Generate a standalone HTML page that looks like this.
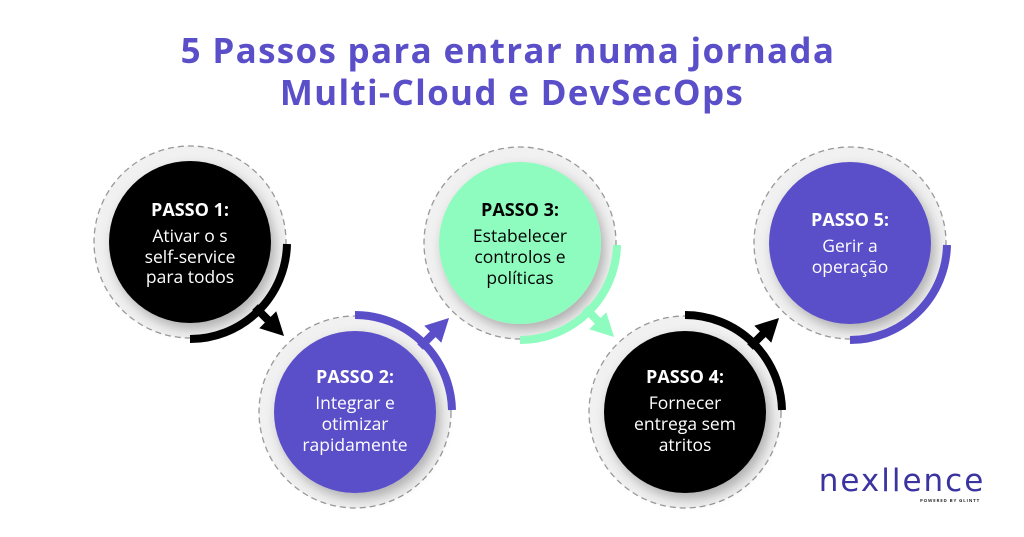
<!DOCTYPE html>
<html><head><meta charset="utf-8"><style>
html,body{margin:0;padding:0;background:#fff;}
svg{display:block;font-family:"Open Sans","Liberation Sans",sans-serif;}
</style></head><body>
<svg width="1024" height="537" viewBox="0 0 1024 537" xmlns="http://www.w3.org/2000/svg">
<defs>
<filter id="sh" x="-30%" y="-30%" width="160%" height="160%"><feDropShadow dx="4" dy="6" stdDeviation="6" flood-color="#000" flood-opacity="0.28"/></filter>
</defs>
<text x="508" y="63" text-anchor="middle" font-size="35" font-weight="bold" fill="#5a4fc8" letter-spacing="1.3">5 Passos para entrar numa jornada</text>
<text x="512" y="105" text-anchor="middle" font-size="35" font-weight="bold" fill="#5a4fc8" letter-spacing="1.3">Multi-Cloud e DevSecOps</text>

<!-- circle 1 -->
<g transform="translate(190,242)">
<circle r="96" fill="#f1f1f1" stroke="#999" stroke-width="1.3" stroke-dasharray="6 4"/>
<circle r="81" fill="#000" filter="url(#sh)"/>
<path d="M97,2 A97,97 0 0 1 0,97" fill="none" stroke="#000" stroke-width="8"/>
<g transform="rotate(45)"><rect x="92" y="-4" width="22" height="8" fill="#000"/><polygon points="110,-12 133,0 110,12" fill="#000"/></g>
<text y="-26" text-anchor="middle" font-size="18" font-weight="bold" fill="#fff">PASSO 1:</text>
<text y="0" text-anchor="middle" font-size="17.5" fill="#fff">Ativar o s</text>
<text y="21" text-anchor="middle" font-size="17.5" fill="#fff">self-service</text>
<text y="41" text-anchor="middle" font-size="17.5" fill="#fff">para todos</text>
</g>

<!-- circle 2 -->
<g transform="translate(355,412)">
<circle r="96" fill="#f1f1f1" stroke="#999" stroke-width="1.3" stroke-dasharray="6 4"/>
<circle r="81" fill="#5a4fc8" filter="url(#sh)"/>
<path d="M0,-97 A97,97 0 0 1 97,-2" fill="none" stroke="#5a4fc8" stroke-width="8"/>
<g transform="rotate(-45)"><rect x="92" y="-4" width="22" height="8" fill="#5a4fc8"/><polygon points="110,-12 133,0 110,12" fill="#5a4fc8"/></g>
<text y="-29" text-anchor="middle" font-size="18" font-weight="bold" fill="#fff">PASSO 2:</text>
<text y="-3" text-anchor="middle" font-size="17.5" fill="#fff">Integrar e</text>
<text y="18" text-anchor="middle" font-size="17.5" fill="#fff">otimizar</text>
<text y="39" text-anchor="middle" font-size="17.5" fill="#fff">rapidamente</text>
</g>

<!-- circle 3 -->
<g transform="translate(520,243)">
<circle r="96" fill="#f1f1f1" stroke="#999" stroke-width="1.3" stroke-dasharray="6 4"/>
<circle r="81" fill="#8dfcbe" filter="url(#sh)"/>
<path d="M97,2 A97,97 0 0 1 0,97" fill="none" stroke="#8dfcbe" stroke-width="8"/>
<g transform="rotate(45)"><rect x="92" y="-4" width="22" height="8" fill="#8dfcbe"/><polygon points="110,-12 133,0 110,12" fill="#8dfcbe"/></g>
<text y="-27" text-anchor="middle" font-size="18" font-weight="bold" fill="#000">PASSO 3:</text>
<text y="-1" text-anchor="middle" font-size="17.5" fill="#000">Estabelecer</text>
<text y="20" text-anchor="middle" font-size="17.5" fill="#000">controlos e</text>
<text y="41" text-anchor="middle" font-size="17.5" fill="#000">políticas</text>
</g>

<!-- circle 4 -->
<g transform="translate(685,412)">
<circle r="96" fill="#f1f1f1" stroke="#999" stroke-width="1.3" stroke-dasharray="6 4"/>
<circle r="81" fill="#000" filter="url(#sh)"/>
<path d="M0,-97 A97,97 0 0 1 97,-2" fill="none" stroke="#000" stroke-width="8"/>
<g transform="rotate(-45)"><rect x="92" y="-4" width="22" height="8" fill="#000"/><polygon points="110,-12 133,0 110,12" fill="#000"/></g>
<text y="-29" text-anchor="middle" font-size="18" font-weight="bold" fill="#fff">PASSO 4:</text>
<text y="-3" text-anchor="middle" font-size="17.5" fill="#fff">Fornecer</text>
<text y="18" text-anchor="middle" font-size="17.5" fill="#fff">entrega sem</text>
<text y="39" text-anchor="middle" font-size="17.5" fill="#fff">atritos</text>
</g>

<!-- circle 5 -->
<g transform="translate(850,243)">
<circle r="96" fill="#f1f1f1" stroke="#999" stroke-width="1.3" stroke-dasharray="6 4"/>
<circle r="81" fill="#5a4fc8" filter="url(#sh)"/>
<path d="M97,2 A97,97 0 0 1 0,97" fill="none" stroke="#5a4fc8" stroke-width="8"/>
<text y="-17" text-anchor="middle" font-size="18" font-weight="bold" fill="#fff">PASSO 5:</text>
<text y="9" text-anchor="middle" font-size="17.5" fill="#fff">Gerir a</text>
<text y="30" text-anchor="middle" font-size="17.5" fill="#fff">operação</text>
</g>

<!-- logo -->
<text x="902" y="491" text-anchor="middle" font-size="31" fill="#3a33a0" letter-spacing="2" font-family="'DejaVu Sans','Liberation Sans',sans-serif">nexllence</text>
<text x="980" y="502" text-anchor="end" font-size="4.5" font-weight="bold" fill="#333" letter-spacing="0.8">POWERED BY GLINTT</text>
</svg>
</body></html>
